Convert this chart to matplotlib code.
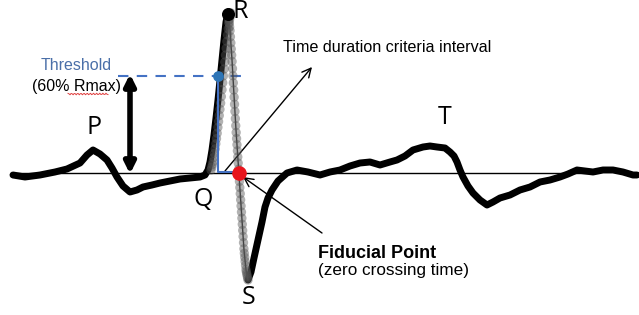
import matplotlib.pyplot as plt
import numpy as np

# ECG trace (pixel coords, y down)
pre_x = [13, 25, 40, 55, 67, 80, 87, 93, 100, 107, 112, 117, 123, 130, 137, 143, 152, 160, 170, 180, 190, 200, 205, 208, 210, 212, 214, 216, 218, 220, 222, 224, 226, 228]
pre_y = [175, 177, 175, 172, 169, 163, 155, 150, 154, 160, 168, 177, 186, 192, 190, 187, 185, 183, 181, 179, 178, 177, 175, 170, 162, 150, 135, 118, 100, 80, 60, 40, 22, 13]
rs_x = [228, 230, 232, 234, 236, 238, 240, 242, 244, 246, 248]
rs_y = [13, 30, 60, 95, 130, 160, 190, 220, 250, 270, 280]
post_x = [248, 251, 254, 258, 262, 265, 268, 272, 278, 287, 297, 308, 320, 330, 340, 350, 360, 370, 380, 390, 397, 405, 413, 423, 430, 437, 445, 450, 454, 457, 460, 463, 468, 473, 480, 487, 493, 500, 510, 520, 530, 540, 550, 560, 568, 577, 585, 593, 603, 613, 623, 633, 637]
post_y = [280, 272, 258, 240, 222, 207, 198, 190, 181, 173, 170, 172, 175, 172, 170, 166, 163, 162, 165, 162, 160, 156, 150, 147, 146, 147, 148, 152, 156, 162, 170, 177, 186, 193, 200, 205, 202, 198, 195, 190, 187, 182, 180, 177, 174, 170, 171, 172, 170, 170, 172, 175, 175]

baseline_y = 173
thr_y = 76
thr_x = 218
zero_x = 239

fig = plt.figure(figsize=(6.39, 3.15), dpi=100)
ax = fig.add_axes([0, 0, 1, 1])
ax.set_xlim(0, 639)
ax.set_ylim(315, 0)
ax.axis("off")

# baseline
ax.plot([12, 590], [baseline_y, baseline_y], color="black", lw=1, zorder=1)

# ECG
ax.plot(pre_x, pre_y, color="black", lw=5, solid_capstyle="round", solid_joinstyle="round", zorder=3)
ax.plot(post_x, post_y, color="black", lw=5, solid_capstyle="round", solid_joinstyle="round", zorder=3)
ax.plot(rs_x, rs_y, color="#333333", lw=1, zorder=3)
# grey dotted overlay on QRS
qx = np.concatenate([np.interp(np.linspace(0, 1, 30), np.linspace(0, 1, 11), pre_x[-11:]) + 3,
                     np.interp(np.linspace(0, 1, 50), np.linspace(0, 1, 11), rs_x)])
qy = np.concatenate([np.interp(np.linspace(0, 1, 30), np.linspace(0, 1, 11), pre_y[-11:]),
                     np.interp(np.linspace(0, 1, 50), np.linspace(0, 1, 11), rs_y)])
ax.scatter(qx, qy, s=45, color="#555555", alpha=0.45, edgecolors="none", zorder=4)
ax.scatter([228], [14], s=70, color="black", zorder=4)

# threshold
blue = "#4472c4"
ax.plot([118, 248], [thr_y, thr_y], color=blue, lw=1.5, ls=(0, (5, 4)), zorder=2)
ax.plot([thr_x, thr_x, zero_x], [thr_y, baseline_y - 1, baseline_y - 1], color=blue, lw=1.5, zorder=5)
ax.scatter([thr_x], [thr_y], s=45, color="#2e75b6", zorder=6)
ax.scatter([zero_x], [baseline_y], s=90, color="#e8141c", zorder=6)

# double arrow for threshold height
ax.annotate("", xy=(130, 74), xytext=(130, 174),
            arrowprops=dict(arrowstyle="<|-|>", color="black", lw=4, mutation_scale=16,
                            shrinkA=0, shrinkB=0))

# thin arrows
ax.annotate("", xy=(312, 67), xytext=(225, 171),
            arrowprops=dict(arrowstyle="->", color="black", lw=1, mutation_scale=16,
                            shrinkA=0, shrinkB=0))
ax.annotate("", xy=(243, 177), xytext=(322, 233),
            arrowprops=dict(arrowstyle="->", color="black", lw=1, mutation_scale=16,
                            shrinkA=0, shrinkB=0))

# labels
big = dict(family="Open Sans", fontsize=18, color="black", ha="center", va="center")
ax.text(240, 12, "R", **big)
ax.text(94, 128, "P", **big)
ax.text(445, 117, "T", **big)
ax.text(203, 199, "Q", **big)
ax.text(249, 298, "S", **big)

ax.text(76, 66, "Threshold", family="Liberation Sans", fontsize=11.5, color="#4a6fa8", ha="center", va="center")
ax.text(76, 86, "(60% Rmax)", family="Liberation Sans", fontsize=11.5, color="black", ha="center", va="center")
wx = np.linspace(68, 108, 40)
ax.plot(wx, 94 + 0.8 * np.sin(wx * 2.0), color="#e04040", lw=0.7)

ax.text(283, 48, "Time duration criteria interval", family="Liberation Sans", fontsize=11.6,
        color="black", ha="left", va="center")
ax.text(318, 253, "Fiducial Point", family="Liberation Sans", fontsize=13, weight="bold",
        color="black", ha="left", va="center")
ax.text(318, 271, "(zero crossing time)", family="Liberation Sans", fontsize=12.3,
        color="black", ha="left", va="center")

fig.savefig("out.png", dpi=100)
